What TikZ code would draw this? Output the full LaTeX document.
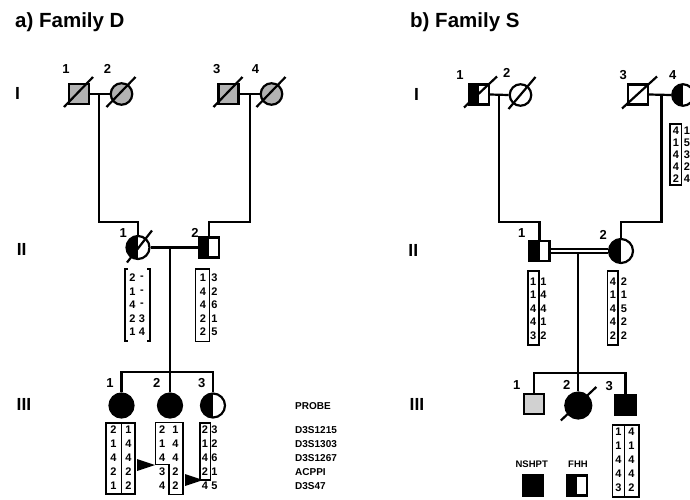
\documentclass[tikz,border=0pt]{standalone}
\usepackage{fontspec}
\setmainfont{Liberation Sans}
\usetikzlibrary{calc}
\newcommand\digcol[5]{%
  \foreach \v [count=\i] in {#5} {\node[dig] (#1\i) at (#2, {#3+#4*(\i-1)}) {\v};}}
\begin{document}
\begin{tikzpicture}[x=1pt,y=-1pt,
  lw/.style={line width=2.2pt},
  bx/.style={line width=1.3pt},
  sq/.style={draw, line width=2.2pt, rectangle, minimum size=20pt, inner sep=0pt},
  ci/.style={draw, line width=2.2pt, circle, minimum size=21.5pt, inner sep=0pt},
  halfL/.style={path picture={\fill[black] (path picture bounding box.south west) rectangle (path picture bounding box.north);}},
  dig/.style={font=\fontsize{11}{11}\selectfont\bfseries, inner sep=0pt},
  lab/.style={font=\fontsize{13}{13}\selectfont\bfseries, inner sep=0pt},
  gen/.style={font=\fontsize{17.5}{17.5}\selectfont\bfseries, inner sep=0pt},
  probe/.style={font=\fontsize{10}{10}\selectfont\bfseries, inner sep=0pt, anchor=west},
  ttl/.style={font=\fontsize{20.5}{20.5}\selectfont\bfseries, inner sep=0pt, anchor=base west}
]
\useasboundingbox (0,0) rectangle (690,499);
\fill[white] (0,0) rectangle (690,499);
\begin{scope}
\clip (0,0) rectangle (690,499);

% titles
\node[ttl] (tA) at (15,27) {a) Family D};
\node[ttl] (tB) at (410,27) {b) Family S};

% generation labels
\node[gen] (gDI) at (17.5,93) {I};
\node[gen] (gDII) at (21.7,249) {II};
\node[gen] (gDIII) at (24,404) {III};
\node[gen] (gSI) at (416.5,94) {I};
\node[gen] (gSII) at (413.3,250) {II};
\node[gen] (gSIII) at (417,404) {III};

% ================= Family D =================
\node[sq, fill=black!30] (D11) at (79,94) {};
\node[ci, fill=black!30] (D12) at (121.5,94) {};
\node[sq, fill=black!30] (D13) at (228.5,94) {};
\node[ci, fill=black!30] (D14) at (271.5,94) {};
\foreach \n in {D11,D12,D13,D14} \draw[lw] ($(\n)+(-15,13)$) -- ($(\n)+(14,-17)$);
\node[lab] (lD11) at (66,69) {1};
\node[lab] (lD12) at (107.5,69) {2};
\node[lab] (lD13) at (216.7,69) {3};
\node[lab] (lD14) at (255.5,69) {4};

\draw[lw] (D11.east) -- (D12.west);
\draw[lw] (D13.east) -- (D14.west);
\coordinate (D1m) at (99,94);
\coordinate (D1k) at (99,222);
\coordinate (D2m) at (250,94);
\coordinate (D2k) at (250,222);

\node[ci, halfL, minimum size=23pt] (D21) at (138,247.5) {};
\draw[lw] ($(D21)+(-11,15)$) -- ($(D21)+(14,-17)$);
\node[sq, halfL] (D22) at (209,247.5) {};
\node[lab] (lD21) at (123.3,233.3) {1};
\node[lab] (lD22) at (195,233.3) {2};
\draw[lw] (D1m) -- (D1k) -| (D21.north);
\draw[lw] (D2m) -- (D2k) -| (D22.north);
\draw[lw] (D21.east) -- (D22.west);

\coordinate (D3m) at (170,247.5);
\coordinate (D3k) at (170,372);
\draw[lw] (D3m) -- (D3k);

\node[ci, fill=black, minimum size=24pt] (D31) at (121.5,405.5) {};
\node[ci, fill=black, minimum size=24pt] (D32) at (170,405.5) {};
\node[ci, halfL, minimum size=24pt] (D33) at (213,405.5) {};
\node[lab] (lD31) at (110,383.3) {1};
\node[lab] (lD32) at (156.7,383.3) {2};
\node[lab] (lD33) at (201.7,383.3) {3};
\draw[lw] (D31.north) -- (D31.north |- D3k) -- (D33.north |- D3k) -- (D33.north);
\draw[lw] (D3k) -- (D32.north);

% haplotypes D II
\draw[bx] (128,269) -- (125,269) -- (125,341) -- (128,341);
\draw[bx] (147,269) -- (150,269) -- (150,341) -- (147,341);
\digcol{hD21a}{132.5}{278}{13.5}{2,1,4,2,1}
\digcol{hD21b}{142}{278}{13.5}{-,-,-,3,4}
\draw[bx] (195.5,269) rectangle (209.5,341.5);
\digcol{hD22a}{203}{278}{13.5}{1,4,4,2,2}
\digcol{hD22b}{214.5}{278}{13.5}{3,2,6,1,5}

% haplotypes D III
\draw[bx] (106,423) rectangle (121.5,494);
\draw[bx] (121.5,423) rectangle (135,494);
\digcol{hD31a}{113.5}{430}{14}{2,1,4,2,1}
\digcol{hD31b}{128.5}{430}{14}{1,4,4,2,2}
\draw[bx] (155.5,422.5) -- (183,422.5) -- (183,494.5) -- (169,494.5) -- (169,464.5) -- (155.5,464.5) -- cycle;
\digcol{hD32a}{162.3}{430}{14}{2,1,4,3,4}
\digcol{hD32b}{175.5}{430}{14}{1,4,4,2,2}
\draw[bx] (200,423) rectangle (210.5,480);
\digcol{hD33a}{205}{430}{14}{2,1,4,2,4}
\digcol{hD33b}{214.5}{430}{14}{3,2,6,1,5}
\fill[black] (137,459) -- (155,465) -- (137,471) -- cycle;
\fill[black] (185,474) -- (203,480) -- (185,486) -- cycle;

% probes
\node[probe] (pr0) at (295,406) {PROBE};
\node[probe] (pr1) at (295,430) {D3S1215};
\node[probe] (pr2) at (295,444) {D3S1303};
\node[probe] (pr3) at (295,458) {D3S1267};
\node[probe] (pr4) at (295,472) {ACPPI};
\node[probe] (pr5) at (295,486) {D3S47};

% ================= Family S =================
\node[sq, halfL] (S11) at (479,94.5) {};
\node[ci] (S12) at (520.5,95) {};
\node[sq] (S13) at (638,94.5) {};
\node[ci, halfL] (S14) at (683,95) {};
\draw[lw] ($(S11)+(-15,13)$) -- ($(S11)+(18,-18)$);
\draw[lw] ($(S12)+(-12,14)$) -- ($(S12)+(15,-18)$);
\draw[lw] ($(S13)+(-16,14)$) -- ($(S13)+(19,-18)$);
\node[lab] (lS11) at (460,75) {1};
\node[lab] (lS12) at (506.7,73.3) {2};
\node[lab] (lS13) at (623.3,75) {3};
\node[lab] (lS14) at (672.7,75) {4};
\draw[lw] (S11.east) -- (S12.west);
\draw[lw] (S13.east) -- (S14.west);
\coordinate (S1m) at (499,95);
\coordinate (S1k) at (499,222);
\coordinate (S2m) at (661.5,95);
\coordinate (S2k) at (661.5,222);

\draw[bx] (670,124) rectangle (681.5,185);
\digcol{hS14a}{676}{131}{12}{4,1,4,4,2}
\digcol{hS14b}{687}{131}{12}{1,5,3,2,4}

\node[sq, halfL] (S21) at (539.5,251) {};
\node[ci, halfL, minimum size=24pt] (S22) at (621,251) {};
\node[lab] (lS21) at (521.7,233.3) {1};
\node[lab] (lS22) at (603.3,235) {2};
\draw[lw] (S1m) -- (S1k) -| (S21.north);
\draw[lw] (S2m) -- (S2k) -| (S22.north);
\draw[line width=1.6pt, double=white, double distance=2.6pt] (S21.east) -- (S22.west);

\coordinate (S3m) at (578.3,253);
\coordinate (S3k) at (578.3,373.3);
\draw[lw] (S3m) -- (S3k);

\draw[bx] (528,271) rectangle (539,345);
\digcol{hS21a}{533.3}{281.5}{13.5}{1,1,4,4,3}
\digcol{hS21b}{543.5}{281.5}{13.5}{1,4,4,1,2}
\draw[bx] (607.5,271) rectangle (618,345);
\digcol{hS22a}{613}{281.5}{13.5}{4,1,4,4,2}
\digcol{hS22b}{624}{281.5}{13.5}{2,1,5,2,2}

\node[sq, fill=black!18] (S31) at (533.8,404) {};
\node[ci, fill=black, minimum size=26pt] (S32) at (578.3,405.5) {};
\node[sq, fill=black] (S33) at (625.5,405) {};
\draw[lw] ($(S32)+(-17.5,15)$) -- ($(S32)+(18,-18.5)$);
\node[lab] (lS31) at (516.7,385) {1};
\node[lab] (lS32) at (566.7,385) {2};
\node[lab] (lS33) at (609.3,386) {3};
\draw[lw] (S31.north) -- (S31.north |- S3k) -- (S33.north |- S3k) -- (S33.north);
\draw[lw] (S3k) -- (S32.north);

\draw[bx] (612.7,425) rectangle (624.3,497);
\draw[bx] (624.3,425) rectangle (639,497);
\digcol{hS33a}{618.5}{432}{13.9}{1,1,4,4,3}
\digcol{hS33b}{631.5}{432}{13.9}{4,1,4,4,2}

% legend
\node[font=\fontsize{9.5}{9.5}\selectfont\bfseries, inner sep=0pt] (Lt1) at (531.7,464) {NSHPT};
\node[font=\fontsize{9.5}{9.5}\selectfont\bfseries, inner sep=0pt] (Lt2) at (578,464) {FHH};
\node[sq, fill=black] (L1) at (533.3,485.5) {};
\node[sq, halfL] (L2) at (576.7,485.5) {};
\end{scope}
\end{tikzpicture}
\end{document}
